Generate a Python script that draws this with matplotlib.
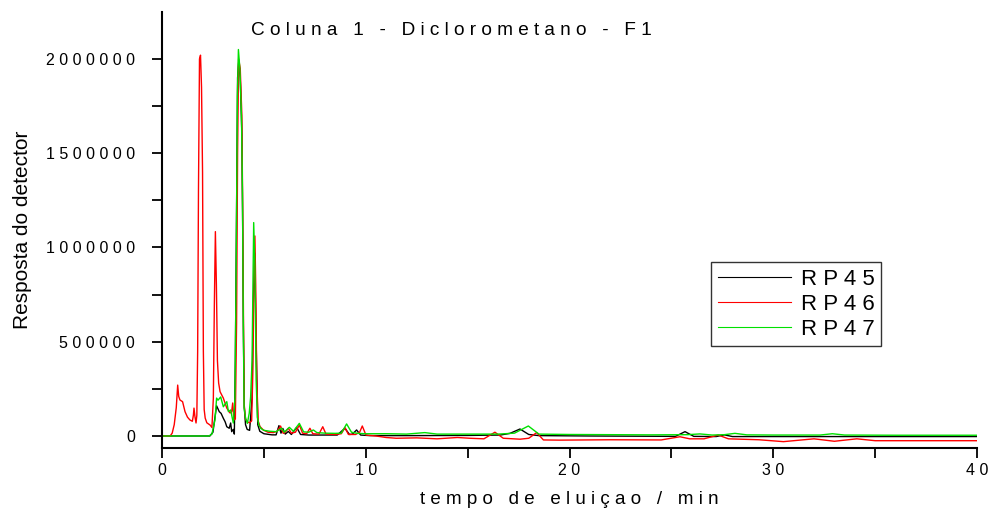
import numpy as np
import matplotlib.pyplot as plt
from matplotlib.ticker import MultipleLocator, FuncFormatter

plt.rcParams['font.family'] = ['Liberation Sans', 'DejaVu Sans']

# tempos (min) e respostas (unidades) de cada cromatograma
t_rp45 = [0, 2.35, 2.5, 2.6, 2.68, 2.81, 2.9, 3.01, 3.1, 3.18, 3.3, 3.37, 3.42, 3.5,
          3.55, 3.6, 3.66, 3.71, 3.76, 3.84, 3.92, 3.96, 4.0, 4.04, 4.1, 4.18, 4.3, 4.42,
          4.48, 4.55, 4.62, 4.7, 4.8, 5.0, 5.4, 5.6, 5.74, 5.84, 5.93, 6.05, 6.2, 6.35,
          6.61, 6.8, 7.2, 8.0, 8.6, 8.98, 9.2, 9.35, 9.55, 9.75, 10.2, 12, 15, 16.6,
          17.08, 17.57, 18.0, 18.5, 21, 25.2, 25.67, 26.1, 27.2, 27.6, 28.0, 33, 40]
y_rp45 = [0, 0, 20e3, 100e3, 160e3, 129e3, 120e3, 94e3, 75e3, 49e3, 41e3, 69e3, 23e3, 35e3,
          10e3, 400e3, 1200e3, 1900e3, 1980e3, 1900e3, 1600e3, 1100e3, 500e3, 150e3, 60e3,
          35e3, 30e3, 200e3, 700e3, 970e3, 500e3, 60e3, 25e3, 12e3, 6e3, 6e3, 55e3, 15e3,
          40e3, 10e3, 24e3, 8e3, 46e3, 8e3, 5e3, 5e3, 5e3, 41e3, 8e3, 10e3, 32e3, 5e3, 2e3,
          2e3, 3e3, 5e3, 14e3, 37e3, 8e3, 2e3, 0, -2e3, 23e3, -2e3, -3e3, 6e3, -3e3, -3e3,
          -3e3]

t_rp46 = [0, 0.4, 0.5, 0.6, 0.7, 0.77, 0.82, 0.88, 1.01, 1.13, 1.25, 1.37, 1.49, 1.54,
          1.57, 1.62, 1.67, 1.71, 1.75, 1.79, 1.84, 1.89, 1.94, 1.99, 2.03, 2.07, 2.12,
          2.2, 2.36, 2.45, 2.52, 2.57, 2.62, 2.67, 2.72, 2.78, 2.85, 3.01, 3.18, 3.34,
          3.42, 3.47, 3.53, 3.6, 3.66, 3.71, 3.76, 3.84, 3.92, 3.96, 4.0, 4.04, 4.1, 4.18,
          4.3, 4.4, 4.45, 4.5, 4.56, 4.6, 4.65, 4.72, 4.81, 4.97, 5.2, 5.46, 5.65, 5.82,
          5.95, 6.05, 6.2, 6.35, 6.55, 6.74, 6.9, 7.1, 7.26, 7.4, 7.7, 7.89, 8.05, 8.5,
          8.8, 8.98, 9.15, 9.5, 9.7, 9.83, 10.01, 10.5, 11.0, 11.5, 12.5, 13.5, 14.5,
          15.1, 15.8, 16.34, 16.75, 17.57, 18.0, 18.39, 18.72, 19.5, 22, 24.5, 25.42,
          25.9, 26.6, 27.3, 27.8, 29.3, 30.5, 32.0, 33.0, 34.1, 35, 37, 40]
y_rp46 = [0, 0, 15e3, 60e3, 150e3, 270e3, 210e3, 191e3, 182e3, 129e3, 100e3, 85e3, 78e3,
          110e3, 148e3, 100e3, 69e3, 110e3, 450e3, 1300e3, 2000e3, 2020e3, 1850e3,
          1400e3, 450e3, 140e3, 95e3, 70e3, 58e3, 45e3, 200e3, 700e3, 1084e3, 800e3,
          400e3, 281e3, 235e3, 201e3, 148e3, 122e3, 130e3, 175e3, 85e3, 90e3, 600e3,
          1500e3, 2000e3, 1950e3, 1700e3, 1200e3, 600e3, 160e3, 90e3, 75e3, 70e3, 80e3,
          300e3, 700e3, 1061e3, 800e3, 300e3, 80e3, 50e3, 32e3, 20e3, 18e3, 25e3, 53e3,
          14e3, 20e3, 41e3, 15e3, 20e3, 58e3, 15e3, 12e3, 41e3, 12e3, 10e3, 49e3, 10e3,
          8e3, 12e3, 44e3, 8e3, 8e3, 20e3, 53e3, 5e3, 0, -8e3, -12e3, -10e3, -15e3, -8e3,
          -12e3, -15e3, 20e3, -12e3, -17e3, -12e3, 18e3, -21e3, -22e3, -20e3, -21e3,
          -4e3, -15e3, -15e3, 5e3, -15e3, -20e3, -30e3, -15e3, -28e3, -15e3, -25e3,
          -25e3, -25e3]

t_rp47 = [0, 2.3, 2.45, 2.6, 2.68, 2.75, 2.88, 3.01, 3.1, 3.18, 3.26, 3.37, 3.44, 3.5,
          3.58, 3.64, 3.7, 3.75, 3.82, 3.9, 3.95, 3.99, 4.03, 4.1, 4.19, 4.28, 4.35, 4.42,
          4.5, 4.56, 4.62, 4.68, 4.75, 4.85, 5.0, 5.3, 5.6, 5.87, 6.0, 6.25, 6.45, 6.74,
          6.95, 7.2, 7.43, 7.6, 8.0, 8.5, 8.8, 9.06, 9.3, 9.6, 10.0, 11, 12, 12.9, 13.5,
          15, 16.5, 17.3, 17.98, 18.5, 20, 24, 25.8, 26.4, 27.0, 27.6, 28.12, 28.7, 30,
          32.3, 32.9, 33.5, 36, 40]
y_rp47 = [0, 0, 10e3, 85e3, 201e3, 190e3, 207e3, 155e3, 170e3, 182e3, 129e3, 138e3,
          100e3, 69e3, 200e3, 900e3, 1800e3, 2050e3, 1950e3, 1700e3, 1300e3, 600e3,
          150e3, 95e3, 67e3, 120e3, 208e3, 400e3, 1132e3, 900e3, 300e3, 100e3, 60e3,
          40e3, 30e3, 25e3, 23e3, 41e3, 20e3, 46e3, 25e3, 67e3, 22e3, 20e3, 32e3, 18e3,
          15e3, 14e3, 15e3, 64e3, 20e3, 14e3, 12e3, 12e3, 10e3, 18e3, 10e3, 10e3, 10e3,
          15e3, 53e3, 10e3, 8e3, 6e3, 7e3, 11e3, 5e3, 7e3, 14e3, 6e3, 5e3, 5e3, 12e3,
          5e3, 4e3, 4e3]

amostras = ["RP45", "RP46", "RP47"]
cores = ["black", "#ff0000", "#00e000"]


def espacar(s):
    # letras separadas por espaço, como no rotulo original
    return " ".join(s)


fig = plt.figure(figsize=(9.91, 5.12), dpi=100)
ax = fig.add_axes([162 / 991, 1 - 448 / 512, (977 - 162) / 991, (448 - 12) / 512])

for t, y, nome, cor in zip([t_rp45, t_rp46, t_rp47], [y_rp45, y_rp46, y_rp47], amostras, cores):
    ax.plot(t, y, color=cor, lw=1.0, label=espacar(nome))

ax.set_xlim(0, 40)
ax.set_ylim(-63.7e3, 2.249e6)

for lado in ["top", "right"]:
    ax.spines[lado].set_visible(False)
for lado in ["left", "bottom"]:
    ax.spines[lado].set_linewidth(1.5)

ax.xaxis.set_major_locator(MultipleLocator(10))
ax.xaxis.set_minor_locator(MultipleLocator(5))
ax.yaxis.set_major_locator(MultipleLocator(500000))
ax.yaxis.set_minor_locator(MultipleLocator(250000))
fmt = FuncFormatter(lambda v, p: espacar(str(int(round(v)))))
ax.xaxis.set_major_formatter(fmt)
ax.yaxis.set_major_formatter(fmt)
ax.tick_params(which="both", direction="out", length=7.5, width=1.3, labelsize=11.5)
ax.tick_params(axis="y", pad=12)
ax.tick_params(axis="x", pad=3)

ax.set_xlabel("t e m p o   d e   e l u i ç a o   /   m i n", fontsize=13.5, labelpad=10)
ax.set_ylabel("Resposta do detector", fontsize=15, labelpad=10)
ax.text(0.355, 0.957, "C o l u n a   1   -   D i c l o r o m e t a n o   -   F 1",
        transform=ax.transAxes, ha="center", va="center", fontsize=13.7)

leg = ax.legend(loc="upper left", bbox_to_anchor=(711 / 991, 1 - 262 / 512),
                bbox_transform=fig.transFigure, borderaxespad=0, fontsize=16,
                frameon=True, fancybox=False, handlelength=3.3, handletextpad=0.45,
                borderpad=0.3, labelspacing=0.18)
leg.get_frame().set_edgecolor("black")
leg.get_frame().set_linewidth(1.0)
for linha in leg.get_lines():
    linha.set_linewidth(0.8)

fig.savefig("out.png", dpi=100)
